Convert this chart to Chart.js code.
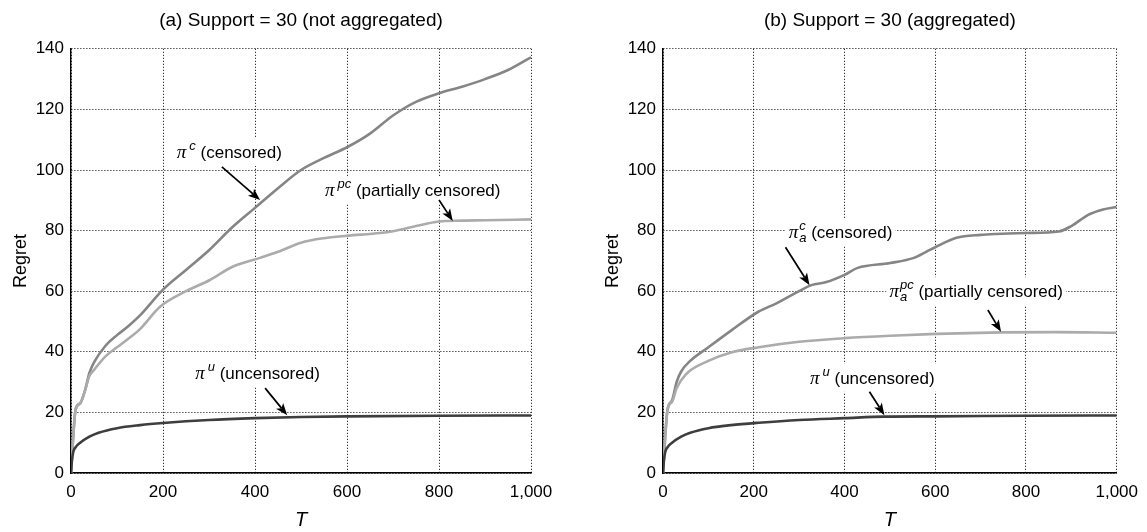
<!DOCTYPE html>
<html>
<head>
<meta charset="utf-8">
<script src="https://cdn.jsdelivr.net/npm/chart.js@4.4.1/dist/chart.umd.min.js"></script>
<style>
  html, body { margin: 0; padding: 0; background: #fff; }
  #wrap { position: relative; width: 1147px; height: 532px; overflow: hidden; }
  .panel { position: absolute; top: 0; height: 532px; }
</style>
</head>
<body>
<div id="wrap">
  <div class="panel" style="left:0;width:573px"><canvas id="cA" width="573" height="532"></canvas></div>
  <div class="panel" style="left:573px;width:574px"><canvas id="cB" width="574" height="532"></canvas></div>
</div>
<script>
// ---------- data ----------
const TITLE_A = '(a) Support = 30 (not aggregated)';
const TITLE_B = '(b) Support = 30 (aggregated)';
const Y_TITLE = 'Regret';
const X_TITLE = 'T';

// Panel (a): not aggregated
const T_A_C   = [0, 4, 10, 20, 30, 40, 50, 75, 100, 125, 150, 200, 250, 300, 350, 400, 450, 500, 550, 600, 650, 700, 750, 800, 850, 900, 950, 1000];
const REG_A_C = [0, 10, 21, 23, 27, 33, 36.5, 42, 45.5, 48.5, 52, 60.5, 67, 73.5, 81, 87.5, 94, 100, 104, 107.5, 112, 118, 122.5, 125.3, 127.5, 130, 133, 137.2];

const T_A_PC   = [0, 4, 10, 20, 30, 40, 50, 75, 100, 121, 150, 193, 250, 302, 350, 411, 450, 500, 550, 600, 672, 700, 750, 800, 850, 900, 1000];
const REG_A_PC = [0, 10, 21, 23, 27, 32, 34, 38.5, 41.5, 43.9, 47.5, 54.8, 60, 63.7, 68, 71, 73, 76, 77.5, 78.3, 79.2, 79.8, 81.5, 83, 83.3, 83.4, 83.7];

const T_A_U   = [0, 2, 5, 10, 20, 40, 60, 100, 150, 200, 300, 400, 500, 600, 800, 1000];
const REG_A_U = [0, 4, 7, 8.5, 10, 12, 13.3, 14.8, 15.8, 16.5, 17.5, 18.1, 18.5, 18.7, 18.9, 19];

// Panel (b): aggregated
const T_B_C   = [0, 4, 10, 20, 30, 40, 60, 100, 150, 211, 250, 300, 327, 360, 400, 429, 501, 553, 580, 601, 647, 700, 734, 801, 872, 900, 937, 970, 1000];
const REG_B_C = [0, 10, 21, 24, 30, 33.5, 37, 41.5, 47, 53.3, 56, 60, 62, 63, 65.4, 67.7, 69.3, 71, 73, 74.6, 77.6, 78.6, 78.9, 79.2, 79.7, 81.5, 85.2, 87, 87.8];

const T_B_PC   = [0, 4, 10, 20, 30, 50, 100, 150, 211, 300, 400, 500, 603, 745, 865, 1000];
const REG_B_PC = [0, 10, 21, 23.5, 28, 32.5, 37, 39.8, 41.5, 43.3, 44.5, 45.3, 45.9, 46.4, 46.5, 46.3];

const T_B_U   = [0, 2, 5, 10, 20, 40, 60, 100, 150, 211, 300, 400, 487, 600, 800, 1000];
const REG_B_U = [0, 4, 7, 8.5, 10, 12, 13.3, 14.8, 15.8, 16.6, 17.5, 18.1, 18.6, 18.7, 18.9, 19];

const X_MIN = 0, X_MAX = 1000, X_STEP = 200;
const Y_MIN = 0, Y_MAX = 140, Y_STEP = 20;

// ---------- styling ----------
const COL_C = '#858585', COL_PC = '#ababab', COL_U = '#3e3e3e';
const FONT = '"Liberation Sans", Arial, Helvetica, sans-serif';

function pts(xs, ys) { return xs.map((x, i) => ({x: x, y: ys[i]})); }
function ds(xs, ys, col) {
  return { data: pts(xs, ys), borderColor: col, borderWidth: 2.6, pointRadius: 0,
           fill: false, cubicInterpolationMode: 'monotone', tension: 0.4 };
}

function drawArrow(ctx, x1, y1, x2, y2) {
  const ang = Math.atan2(y2 - y1, x2 - x1);
  const hl = 12, hw = 4.6;
  const bx = x2 - hl * Math.cos(ang), by = y2 - hl * Math.sin(ang);
  ctx.save();
  ctx.strokeStyle = '#000'; ctx.fillStyle = '#000'; ctx.lineWidth = 1.7;
  ctx.beginPath(); ctx.moveTo(x1, y1); ctx.lineTo(bx + 3 * Math.cos(ang), by + 3 * Math.sin(ang)); ctx.stroke();
  ctx.beginPath();
  ctx.moveTo(x2, y2);
  ctx.lineTo(bx - hw * Math.sin(ang), by + hw * Math.cos(ang));
  ctx.lineTo(bx + 3 * Math.cos(ang), by + 3 * Math.sin(ang));
  ctx.lineTo(bx + hw * Math.sin(ang), by - hw * Math.cos(ang));
  ctx.closePath(); ctx.fill();
  ctx.restore();
}

const annotPlugin = {
  id: 'annot',
  afterDatasetsDraw(chart) {
    const list = chart.options.plugins.annot.items;
    const ctx = chart.ctx, xs = chart.scales.x, ys = chart.scales.y;
    list.forEach(a => {
      const x0 = xs.getPixelForValue(a.x), yc = ys.getPixelForValue(a.y);
      const fPi = 'italic 19px "Liberation Serif", "DejaVu Serif", serif';
      const fSup = 'italic 13px ' + FONT;
      const fTxt = '17px ' + FONT;
      ctx.save();
      ctx.font = fPi; const wPi = ctx.measureText('\u03c0').width;
      ctx.font = fSup;
      const wSup = a.sup ? ctx.measureText(a.sup).width : 0;
      const wSub = a.sub ? ctx.measureText(a.sub).width : 0;
      const wS = Math.max(wSup, wSub);
      ctx.font = fTxt; const wT = ctx.measureText(a.label).width;
      const gap = a.sub ? 1 : 3;
      const total = wPi + gap + wS + wT;
      ctx.fillStyle = '#fff';
      ctx.fillRect(x0 - 3, yc - 14, total + 6, 28);
      ctx.fillStyle = '#000';
      ctx.textBaseline = 'alphabetic'; ctx.textAlign = 'left';
      const base = yc + 6;
      ctx.font = fPi; ctx.fillText('\u03c0', x0, base);
      ctx.font = fSup;
      if (a.sup) ctx.fillText(a.sup, x0 + wPi + gap, base - 8);
      if (a.sub) ctx.fillText(a.sub, x0 + wPi + gap, base + 4);
      ctx.font = fTxt; ctx.fillText(a.label, x0 + wPi + gap + wS, base);
      ctx.restore();
      drawArrow(ctx, xs.getPixelForValue(a.ax[0]), ys.getPixelForValue(a.ax[1]),
                     xs.getPixelForValue(a.tip[0]), ys.getPixelForValue(a.tip[1]));
    });
  }
};

function makeChart(id, title, datasets, padLeft, padRight, items) {
  return new Chart(document.getElementById(id), {
    type: 'line',
    data: { datasets: datasets },
    plugins: [annotPlugin],
    options: {
      responsive: false, animation: false, devicePixelRatio: 1,
      layout: { padding: { left: padLeft, right: padRight, top: 0, bottom: 0 } },
      plugins: {
        legend: { display: false }, tooltip: { enabled: false },
        title: { display: true, text: title, fullSize: false, color: '#000',
                 font: { family: FONT, size: 19, weight: 'normal' },
                 padding: { top: 9, bottom: 17 } },
        annot: { items: items }
      },
      scales: {
        x: { type: 'linear', min: X_MIN, max: X_MAX,
             ticks: { stepSize: X_STEP, color: '#000', padding: 9, maxRotation: 0,
                      font: { family: FONT, size: 17 } },
             grid: { color: '#000', lineWidth: 1, drawTicks: false },
             border: { display: true, color: '#000', width: 1.4, dash: [1, 2] },
             title: { display: true, text: X_TITLE, color: '#000', padding: { top: 0, bottom: 0 },
                      font: { family: FONT, size: 20, style: 'italic' } },
             afterFit: s => { s.height = 59; } },
        y: { type: 'linear', min: Y_MIN, max: Y_MAX,
             ticks: { stepSize: Y_STEP, color: '#000', padding: 7,
                      font: { family: FONT, size: 17 } },
             grid: { color: '#000', lineWidth: 1, drawTicks: false },
             border: { display: true, color: '#000', width: 1.4, dash: [1, 2] },
             title: { display: true, text: Y_TITLE, color: '#000', padding: { top: 10, bottom: 0 },
                      font: { family: FONT, size: 18 } },
             afterFit: s => { s.width = 71; } }
      }
    }
  });
}

makeChart('cA', TITLE_A, [
  ds(T_A_U, REG_A_U, COL_U),
  ds(T_A_PC, REG_A_PC, COL_PC),
  ds(T_A_C, REG_A_C, COL_C)
], 0, 42, [
  { sup: 'c', label: ' (censored)', x: 230, y: 106, ax: [328, 101], tip: [411, 90.1] },
  { sup: 'pc', label: ' (partially censored)', x: 552, y: 93.4, ax: [800, 90.1], tip: [830, 83.2] },
  { sup: 'u', label: ' (uncensored)', x: 270, y: 33, ax: [422, 28], tip: [470, 19.1] }
]);

makeChart('cB', TITLE_B, [
  ds(T_B_U, REG_B_U, COL_U),
  ds(T_B_PC, REG_B_PC, COL_PC),
  ds(T_B_C, REG_B_C, COL_C)
], 19, 25, [
  { sup: 'c', sub: 'a', label: ' (censored)', x: 277, y: 79.5, ax: [270, 74.5], tip: [323, 62] },
  { sup: 'pc', sub: 'a', label: ' (partially censored)', x: 499, y: 60, ax: [716, 53.8], tip: [745, 46.6] },
  { sup: 'u', label: ' (uncensored)', x: 324, y: 31.4, ax: [455, 26.8], tip: [488, 19.1] }
]);
</script>
</body>
</html>
